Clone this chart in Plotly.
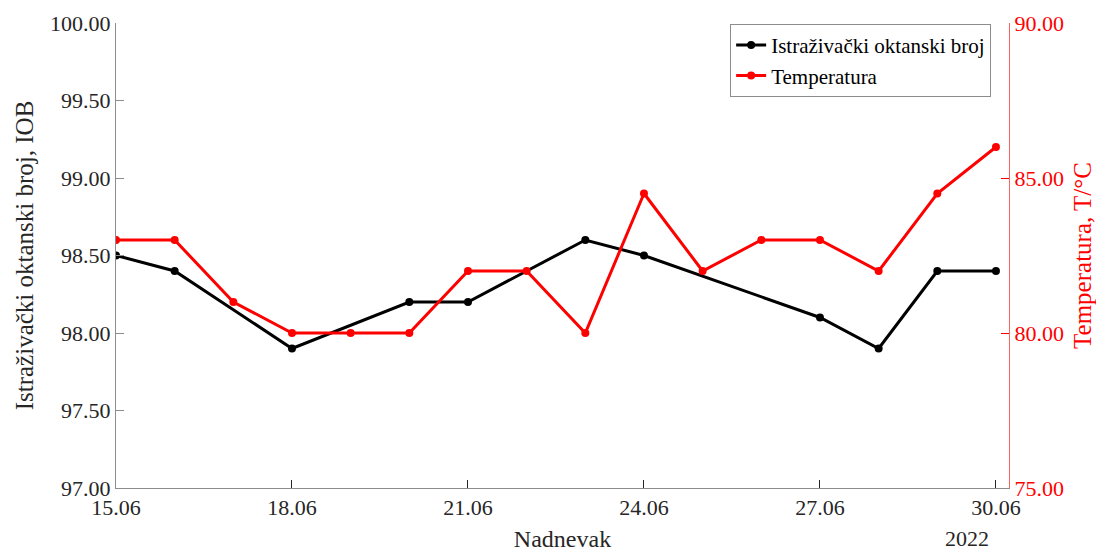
import plotly.graph_objects as go

ron_dates = ["2022-06-15", "2022-06-16", "2022-06-18", "2022-06-20", "2022-06-21",
             "2022-06-23", "2022-06-24", "2022-06-27", "2022-06-28", "2022-06-29", "2022-06-30"]
ron_values = [98.5, 98.4, 97.9, 98.2, 98.2, 98.6, 98.5, 98.1, 97.9, 98.4, 98.4]

temp_dates = ["2022-06-15", "2022-06-16", "2022-06-17", "2022-06-18", "2022-06-19", "2022-06-20",
              "2022-06-21", "2022-06-22", "2022-06-23", "2022-06-24", "2022-06-25", "2022-06-26",
              "2022-06-27", "2022-06-28", "2022-06-29", "2022-06-30"]
temp_values = [83, 83, 81, 80, 80, 80, 82, 82, 80, 84.5, 82, 83, 83, 82, 84.5, 86]

x_tickvals = ["2022-06-15", "2022-06-18", "2022-06-21", "2022-06-24", "2022-06-27", "2022-06-30"]
x_ticktext = ["15.06", "18.06", "21.06", "24.06", "27.06", "30.06"]
y1_ticks = [97.0, 97.5, 98.0, 98.5, 99.0, 99.5, 100.0]
y2_ticks = [75, 80, 85, 90]

FONT = "Liberation Serif"
GRAY = "#8c8c8c"
TXT = "#262626"

fig = go.Figure()
fig.add_trace(go.Scatter(x=ron_dates, y=ron_values, mode="lines+markers",
                         name="Istraživački oktanski broj",
                         line=dict(color="black", width=3), marker=dict(size=8, color="black")))
fig.add_trace(go.Scatter(x=temp_dates, y=temp_values, mode="lines+markers",
                         name="Temperatura", yaxis="y2",
                         line=dict(color="#ff0000", width=3), marker=dict(size=8, color="#ff0000")))

fig.update_layout(
    width=1096, height=552,
    margin=dict(l=116, r=87, t=23, b=64, autoexpand=False),
    paper_bgcolor="white", plot_bgcolor="white",
    font=dict(family=FONT, size=21, color=TXT),
    xaxis=dict(type="date", range=["2022-06-15", "2022-06-30 05:20"], automargin=False,
               tickvals=x_tickvals, ticktext=x_ticktext,
               ticks="inside", ticklen=8, tickcolor=TXT, showline=True, linecolor=GRAY,
               showgrid=False, zeroline=False, tickfont=dict(size=22, color=TXT),
               title=dict(text="Nadnevak", font=dict(size=24, color=TXT), standoff=10)),
    yaxis=dict(range=[97, 100], tickvals=y1_ticks, tickformat=".2f", automargin=False,
               ticks="inside", ticklen=8, tickcolor=GRAY, showline=True, linecolor=GRAY,
               showgrid=False, zeroline=False, tickfont=dict(size=22, color=TXT),
               title=dict(text="Istraživački oktanski broj, IOB", font=dict(size=25, color=TXT), standoff=9)),
    yaxis2=dict(range=[75, 90], tickvals=y2_ticks, tickformat=".2f", overlaying="y", side="right",
                automargin=False,
                ticks="inside", ticklen=8, tickcolor="#ff0000", showline=True, linecolor="#ff6060",
                showgrid=False, zeroline=False, tickfont=dict(size=22, color="#ff0000"),
                title=dict(text="Temperatura, T/°C", font=dict(size=25, color="#ff0000"), standoff=12)),
    legend=dict(x=0.98, y=0.998, xanchor="right", yanchor="top",
                bordercolor=GRAY, borderwidth=1, bgcolor="white",
                font=dict(size=21, color="black"), tracegroupgap=0, itemwidth=30),
    showlegend=True,
)
fig.add_annotation(text="2022", xref="x", yref="paper", x="2022-06-29 12:00", y=0, yshift=-50,
                   showarrow=False, font=dict(size=22, color=TXT), yanchor="middle")

fig.write_html("out.html", config={"displayModeBar": False},
               post_script="document.body.style.margin='0';document.body.style.overflow='hidden';")
